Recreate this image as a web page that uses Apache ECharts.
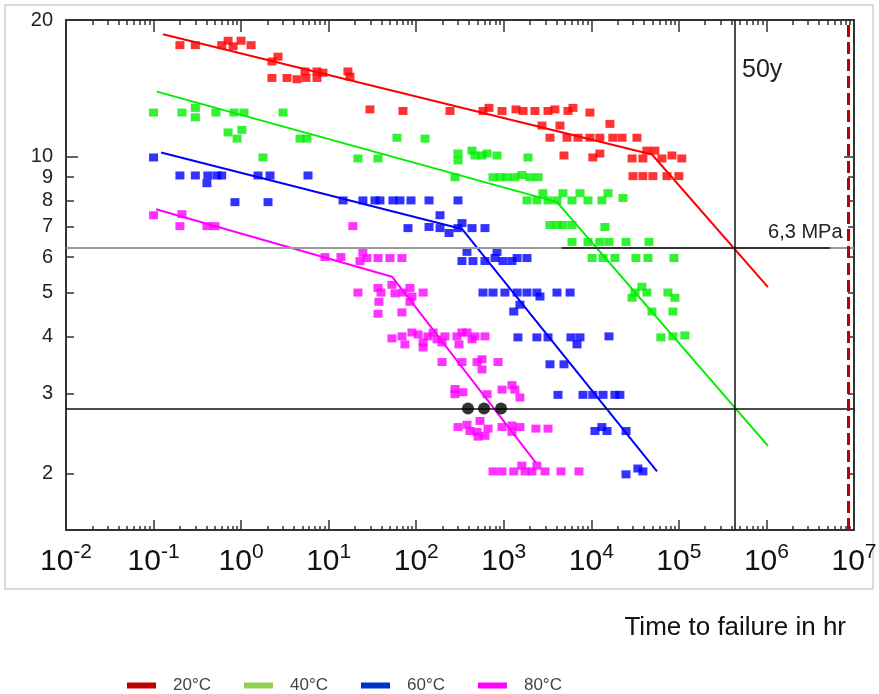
<!DOCTYPE html>
<html>
<head>
<meta charset="utf-8">
<title>Time to failure</title>
<script src="https://cdn.jsdelivr.net/npm/echarts@6/dist/echarts.min.js"></script>
<style>
  html, body { margin: 0; padding: 0; background: #fff; }
  #chart { width: 879px; height: 694px; }
</style>
</head>
<body>
<div id="chart"></div>
<script>
const FONT = "'Liberation Sans', Arial, sans-serif";

// axis ticks / labels
const xDecades = [0.01, 0.1, 1, 10, 100, 1000, 10000, 100000, 1000000, 10000000];
const minorSteps = [2, 3, 4, 5, 6, 7, 8, 9];
const yLabels = [2, 3, 4, 5, 6, 7, 8, 9, 10, 20];

// measured points [time in hr, stress MPa]
const pts20 = [
  [0.2, 17.6], [0.3, 17.6], [0.6, 17.6], [0.71, 18.0], [0.81, 17.5], [1.0, 18.0], [1.3, 17.6],
  [2.25, 16.2], [2.64, 16.6], [2.25, 14.9], [3.34, 14.9], [4.35, 14.8], [5.37, 15.4], [5.5, 14.9],
  [7.36, 15.4], [7.36, 14.9], [8.6, 15.3], [16.6, 15.4], [17.5, 15.0],
  [29.6, 12.7], [70.6, 12.6], [243, 12.6], [579, 12.6], [678, 12.8], [955, 12.6], [1380, 12.7],
  [1660, 12.6], [2270, 12.6], [3200, 12.6], [3840, 12.7], [5410, 12.6], [6170, 12.8], [9640, 12.5],
  [2730, 11.7], [4380, 11.7], [16300, 11.8],
  [3370, 11.0], [5270, 11.0], [7040, 11.0], [9640, 11.0], [12500, 11.0], [17600, 11.0], [22400, 11.0], [33200, 11.0],
  [4870, 10.05], [10400, 9.95], [12500, 10.15], [29200, 9.9], [38800, 9.9], [43100, 10.3], [53200, 10.3],
  [64000, 9.9], [83300, 10.05], [108000, 9.9],
  [29900, 9.05], [38800, 9.05], [50500, 9.05], [73000, 9.05], [100000, 9.05]
];
const pts40 = [
  [0.1, 12.5], [0.211, 12.5], [0.3, 12.8], [0.3, 12.2], [0.516, 12.5], [0.83, 12.5], [1.08, 12.5], [3.01, 12.5],
  [0.71, 11.3], [1.02, 11.45], [0.9, 10.95], [4.71, 10.95], [5.66, 10.95],
  [1.78, 9.95], [21.6, 9.9], [36.6, 9.9], [60.3, 11.0], [126, 10.95],
  [300, 10.15], [300, 9.8], [434, 10.3], [469, 10.05], [564, 10.05], [644, 10.15], [837, 10.05], [1890, 9.95],
  [277, 9.0], [754, 9.0], [906, 9.0], [1090, 9.0], [1340, 9.0], [1610, 9.1], [1990, 9.0], [2460, 9.0],
  [1840, 8.0], [2390, 8.0], [2800, 8.3], [3200, 8.0], [4050, 8.0], [4740, 8.3], [6010, 8.0], [7420, 8.3],
  [9160, 8.0], [13200, 8.0], [15500, 8.3], [23000, 8.1],
  [3370, 7.06], [4050, 7.06], [4740, 7.06], [6010, 7.06], [14300, 6.99],
  [6010, 6.48], [9160, 6.48], [12500, 6.48], [15900, 6.48], [24900, 6.48], [45500, 6.48],
  [10200, 5.97], [13600, 5.97], [18600, 5.97], [32300, 5.97], [44300, 5.97], [87800, 5.97],
  [29200, 4.88], [31500, 5.01], [37800, 5.16], [43100, 5.01], [75000, 5.01], [90100, 4.88],
  [49200, 4.55], [85500, 4.55],
  [62300, 3.99], [85500, 4.01], [117000, 4.03]
];
const pts60 = [
  [0.1, 9.95], [0.2, 9.08], [0.3, 9.08], [0.417, 9.08], [0.53, 9.08], [0.6, 9.08], [0.407, 8.73],
  [1.56, 9.08], [2.14, 9.08], [5.81, 9.08], [0.85, 7.93], [2.03, 7.93],
  [14.6, 8.0], [24.6, 8.0], [33.8, 8.0], [38.5, 8.0], [54.2, 8.0], [65.2, 8.0], [87.1, 8.0], [140, 8.0], [300, 8.0],
  [187, 7.42],
  [80.5, 6.95], [140, 6.99], [187, 6.95], [237, 6.78], [300, 6.95], [333, 7.13], [434, 6.95], [610, 6.95],
  [380, 6.16], [837, 6.16],
  [333, 5.88], [445, 5.88], [610, 5.88], [794, 5.97], [980, 5.88], [1240, 5.88], [1420, 5.97], [1840, 5.97],
  [579, 5.01], [754, 5.01], [1030, 5.01], [1420, 5.01], [1840, 5.01], [2390, 5.01], [2590, 4.91], [4050, 5.01], [5720, 5.01],
  [1300, 4.55], [1530, 4.71],
  [1450, 3.99], [2390, 3.99], [3200, 3.99], [5850, 3.99], [7420, 3.99], [6860, 3.85], [15900, 4.01],
  [3370, 3.48], [4870, 3.48],
  [4160, 2.98], [8030, 2.98], [10400, 2.98], [13600, 2.98], [18600, 2.98], [21200, 2.98],
  [11000, 2.48], [13200, 2.53], [15100, 2.48], [24900, 2.48],
  [24900, 1.99], [34000, 2.05], [38800, 2.02]
];
const pts80 = [
  [0.1, 7.42], [0.211, 7.46], [0.2, 7.02], [0.407, 7.02], [0.503, 7.02],
  [9.08, 6.0], [13.8, 6.0], [18.9, 7.02], [22.8, 5.88], [24.6, 6.13], [27.4, 5.97], [36.6, 5.97], [50.1, 5.97], [68.7, 5.97],
  [21.6, 5.01], [36.6, 5.13], [39.6, 5.01], [37.5, 4.78], [52.8, 5.21], [57.2, 4.99], [70.6, 5.01],
  [84.8, 5.13], [89.4, 4.91], [84.8, 4.78], [120, 5.01],
  [36.6, 4.5], [68.7, 4.53],
  [52.8, 3.97], [68.7, 4.01], [74.3, 3.85], [89.4, 4.09], [105, 4.05], [120, 3.89], [136, 4.01], [156, 4.09],
  [173, 3.95], [213, 4.01], [292, 4.01], [333, 4.09], [380, 4.09], [434, 3.95], [469, 4.01], [610, 4.01], [308, 3.85],
  [120, 3.79], [197, 3.89],
  [197, 3.52], [333, 3.52], [495, 3.52], [564, 3.57], [564, 3.39], [859, 3.52],
  [277, 3.07], [277, 2.99], [342, 3.02], [644, 2.99], [955, 3.06], [1240, 3.13], [1340, 3.06], [1530, 2.94],
  [300, 2.53], [380, 2.56], [535, 2.61], [411, 2.48], [495, 2.47], [508, 2.41], [610, 2.42], [661, 2.51],
  [955, 2.53], [1240, 2.55], [1240, 2.47], [1530, 2.53], [2330, 2.51], [3200, 2.51],
  [754, 2.02], [955, 2.02], [1300, 2.02], [1610, 2.08], [1750, 2.02], [2100, 2.02], [2390, 2.08],
  [2960, 2.02], [4500, 2.02], [7220, 2.02]
];

// fitted regression lines (with knee)
const fit20 = [[0.128, 18.6], [49300, 10.1], [1.04e6, 5.15]];
const fit40 = [[0.109, 13.9], [4050, 7.93], [1.04e6, 2.3]];
const fit60 = [[0.122, 10.2], [333, 6.92], [56200, 2.02]];
const fit80 = [[0.107, 7.65], [52.9, 5.43], [2333, 2.11]];

const failDots = [[390, 2.78], [595, 2.78], [930, 2.78]];

// reference lines
const stressRef = 6.3;
const stressDesign = 2.78;
const fiftyYears = 438000;
const limitTime = 8.5e6;
const refSegment = [4600, 5.3e6];

const names = ['20°C', '40°C', '60°C', '80°C'];
const pointColors = ['#ff0000', '#00ee00', '#0000ff', '#ff00ff'];
const legendColors = ['#c00000', '#92d050', '#0033cc', '#ff00ff'];

let xMinor = [];
xDecades.slice(0, -1).forEach(d => minorSteps.forEach(k => xMinor.push(+(k * d).toPrecision(3))));

const axisColor = '#333';

function xAxisOf(pos, ticks, len, withLabel, withLine) {
  return {
    type: 'log', logBase: 10, min: 0.01, max: 1e7, position: pos,
    axisLine: { show: withLine, lineStyle: { color: axisColor, width: 2 } },
    axisTick: { show: true, inside: true, length: len, customValues: ticks, lineStyle: { color: axisColor, width: 1.5 } },
    axisLabel: withLabel ? {
      customValues: xDecades,
      margin: 12,
      formatter: v => '{b|10}{s|' + Math.round(Math.log10(v)) + '}',
      rich: {
        b: { fontSize: 30, lineHeight: 40, fontFamily: FONT, color: '#111' },
        s: { fontSize: 21, fontFamily: FONT, color: '#111', verticalAlign: 'top' }
      }
    } : { show: false },
    splitLine: { show: false }
  };
}

function yAxisOf(pos, ticks, len, withLabel, withLine) {
  return {
    type: 'log', logBase: 10, min: 1.5, max: 20, position: pos,
    axisLine: { show: withLine, lineStyle: { color: axisColor, width: 2 } },
    axisTick: { show: true, inside: true, length: len, customValues: ticks, lineStyle: { color: axisColor, width: 1.5 } },
    axisLabel: withLabel ? {
      customValues: yLabels, margin: 13, fontSize: 20, fontFamily: FONT, color: '#222'
    } : { show: false },
    splitLine: { show: false }
  };
}

const scatterSeries = [pts20, pts40, pts60, pts80].map((d, i) => ({
  name: names[i], type: 'scatter', symbol: 'rect', symbolSize: [9, 8],
  itemStyle: { color: pointColors[i] }, data: d, z: 3
}));
const fitSeries = [fit20, fit40, fit60, fit80].map((d, i) => ({
  name: names[i], type: 'line', showSymbol: false, symbol: 'none',
  lineStyle: { color: pointColors[i], width: 2 }, itemStyle: { color: pointColors[i] }, data: d, z: 4
}));

const chart = echarts.init(document.getElementById('chart'));
chart.setOption({
  animation: false,
  backgroundColor: '#fff',
  textStyle: { fontFamily: FONT },
  grid: { left: 66, top: 20, right: 25, bottom: 164, outerBoundsMode: 'none' },
  title: {
    text: 'Time to failure in hr', right: 28, top: 610,
    textStyle: { fontSize: 26, fontWeight: 'normal', color: '#111', fontFamily: FONT }
  },
  legend: {
    left: 122, top: 672, icon: 'rect', itemWidth: 29, itemHeight: 6, itemGap: 33,
    textStyle: { fontSize: 17, color: '#444', fontFamily: FONT, padding: [0, 0, 0, 12] },
    data: names.map((n, i) => ({ name: n, itemStyle: { color: legendColors[i] } }))
  },
  graphic: [{
    type: 'rect', silent: true, z: -10,
    shape: { x: 5, y: 5, width: 868, height: 584 },
    style: { fill: 'none', stroke: '#d0d0d0', lineWidth: 1.5 }
  }],
  xAxis: [
    xAxisOf('bottom', xDecades, 10, true, true),
    xAxisOf('bottom', xMinor, 4, false, false),
    xAxisOf('top', xDecades, 12, false, true),
    xAxisOf('top', xMinor, 5, false, false)
  ],
  yAxis: [
    yAxisOf('left', [2, 3, 4, 5, 6, 7, 8, 9], 8, true, true),
    yAxisOf('left', [10], 12, false, false),
    yAxisOf('right', [2, 3, 4, 5, 6, 7, 8, 9], 6, false, true),
    yAxisOf('right', [10], 10, false, false)
  ],
  series: [
    {
      name: 'ref', type: 'line', data: [], z: 2,
      markLine: {
        silent: true, symbol: 'none', label: { show: false },
        data: [
          { yAxis: stressRef, lineStyle: { color: '#999', width: 2, type: 'solid' } },
          [{ coord: [refSegment[0], stressRef], lineStyle: { color: '#111', width: 1.5, type: 'solid' } }, { coord: [refSegment[1], stressRef] }],
          { yAxis: stressDesign, lineStyle: { color: '#111', width: 1.5, type: 'solid' } },
          { xAxis: fiftyYears, lineStyle: { color: '#111', width: 1.5, type: 'solid' } },
          { xAxis: limitTime, lineStyle: { color: '#c00000', width: 3, type: [12, 5] } }
        ]
      },
      markPoint: {
        silent: true, symbol: 'circle', symbolSize: 0,
        data: [
          { name: '50y', coord: [fiftyYears, 15.5],
            label: { show: true, position: 'right', distance: 7, formatter: '{b}', fontSize: 25, color: '#222', fontFamily: FONT } },
          { name: '6,3 MPa', coord: [7.4e6, 6.8],
            label: { show: true, position: 'left', distance: 0, formatter: '{b}', fontSize: 20, color: '#222', fontFamily: FONT } }
        ]
      }
    },
    ...fitSeries,
    ...scatterSeries,
    {
      name: 'failure', type: 'scatter', symbol: 'circle', symbolSize: 12,
      itemStyle: { color: '#000' }, data: failDots, z: 6
    }
  ]
});
</script>
</body>
</html>
